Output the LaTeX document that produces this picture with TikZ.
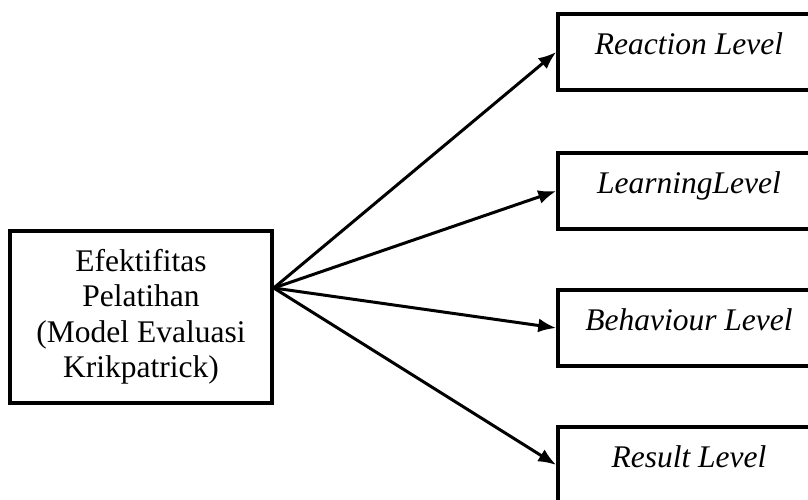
\documentclass[tikz,border=0pt]{standalone}
\usepackage{fontspec}
\setmainfont{Liberation Serif}
\usepackage{tikz}
\usetikzlibrary{arrows.meta, positioning}

\begin{document}
\begin{tikzpicture}[x=1pt, y=1pt,
  box/.style={draw, line width=3.5pt, minimum width=262pt, minimum height=76pt,
              inner sep=0pt, font=\fontsize{31.5}{35.5}\selectfont\itshape,
              text height=22pt, text depth=17pt},
  src/.style={draw, line width=3.5pt, minimum width=262pt, minimum height=172pt,
              align=center, font=\fontsize{31.5}{35.5}\selectfont},
  link/.style={line width=3pt, -{Latex[length=18pt, width=14pt]}}]
\useasboundingbox (0,0) rectangle (808,500);

% Source box
\node[src] (eval) at (141,183) {Efektifitas\\Pelatihan\\(Model Evaluasi\\Krikpatrick)};
\coordinate (hub) at ([yshift=29pt]eval.east);

% Level boxes and arrows
\foreach \name/\y/\txt in {reaction/448/Reaction Level, learning/309/LearningLevel,
                           behaviour/172/Behaviour Level, result/35/Result Level}
{
  \node[box] (\name) at (689,\y) {\txt};
  \draw[link] (hub) -- (\name.west);
}
\end{tikzpicture}
\end{document}
